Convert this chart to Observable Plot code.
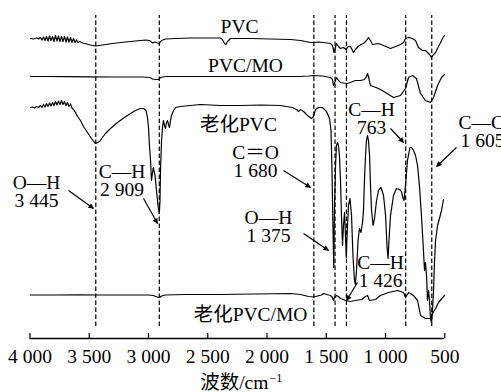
<!DOCTYPE html>
<html><head><meta charset="utf-8">
<script src="https://cdn.jsdelivr.net/npm/d3@7"></script>
<script src="https://cdn.jsdelivr.net/npm/@observablehq/plot@0.6"></script>
<style>html,body{margin:0;padding:0;background:#fff}svg{display:block}</style>
</head><body><div id="chart"></div>
<script>
// [wavenumber cm^-1, relative transmittance (offset per trace)]
const pvc = [[3996,300],[3970,299.5],[3945,300.5],[3928,299.5],[3911,301],[3899,298.5],[3886,301.5],[3873,298],[3861,302],[3848,297.5],[3835,302.5],[3823,298],[3810,302],[3797,297],[3785,303],[3772,297.5],[3760,302.5],[3747,297],[3734,302],[3722,297],[3709,302],[3696,296.5],[3684,301.5],[3671,296.5],[3658,301],[3646,296],[3633,300],[3620,296],[3608,298.5],[3595,296],[3582,297],[3557,295.5],[3523,294.5],[3490,293.5],[3445,292.5],[3363,294],[3236,296],[3110,297.5],[3025,298.5],[2992,298],[2966,295.5],[2949,296.5],[2924,295.5],[2909,295],[2890,298],[2857,299.5],[2772,300],[2646,300.5],[2393,300.5],[2376,299],[2359,295],[2346,294],[2334,297],[2308,300],[2139,300],[1971,299.5],[1802,299],[1718,298],[1675,297],[1633,296],[1608,296],[1566,296.5],[1524,296],[1464,295],[1448,293],[1435,286],[1414,295],[1397,292],[1380,290],[1355,291],[1338,289.5],[1329,290],[1313,292],[1296,292],[1270,286],[1254,289],[1232,292],[1207,294],[1186,295],[1161,298],[1144,301],[1127,298],[1110,294],[1085,294.5],[1059,295],[1017,293],[958,290],[916,292],[874,294],[848,296],[832,300],[806,301],[773,300],[747,298],[722,291],[688,288],[663,288],[646,286],[629,284],[612,281],[595,284],[578,286],[553,292],[536,296],[519,300],[503,303]];
const pvcMO = [[3996,262],[3850,262],[3700,261.8],[3500,261.6],[3300,261.5],[3050,261.5],[2990,261],[2966,259.5],[2941,259],[2916,259],[2899,261],[2857,262],[2600,262],[2139,262],[1718,262],[1650,262.5],[1608,263],[1530,262.5],[1464,261],[1448,259],[1439,253],[1422,258],[1414,261],[1397,258],[1380,256],[1329,255],[1296,256],[1254,258],[1211,258],[1178,259],[1161,262],[1152,265],[1144,262],[1127,253],[1059,250],[1000,246],[933,241],[874,243],[832,250],[806,261],[773,263],[739,260],[705,245],[663,238],[621,236],[595,241],[561,253],[528,261],[503,264]];
const agedPVC = [[3996,231],[3979,231.5],[3962,230.5],[3945,232],[3928,231],[3911,233],[3899,231],[3886,234],[3873,231.5],[3861,235],[3848,232],[3835,235.5],[3823,232.5],[3810,236],[3797,233],[3785,237],[3772,233.5],[3760,237.5],[3747,234],[3734,238],[3722,234],[3709,237],[3696,233],[3684,236],[3671,232],[3658,234.5],[3646,230.5],[3633,229],[3616,226],[3599,222],[3574,218],[3549,212],[3515,206],[3481,200],[3456,196],[3445,195],[3414,197],[3388,201],[3363,205],[3321,210],[3262,216],[3203,221],[3152,225],[3110,228],[3068,230],[3042,230],[3021,228],[3009,221],[3000,211],[2992,193],[2983,178],[2975,158],[2966,166],[2960,171],[2954,168],[2945,163],[2933,148],[2920,133],[2909,125],[2903,138],[2899,168],[2890,198],[2882,211],[2874,218],[2865,213],[2857,210],[2848,216],[2840,218],[2831,214],[2823,211],[2814,218],[2806,223],[2789,228],[2772,231],[2730,232],[2646,233],[2561,234],[2393,233],[2224,233],[2055,233.5],[1886,233],[1785,231],[1751,229],[1734,227],[1718,229],[1692,227],[1658,223],[1625,220],[1608,222],[1591,229],[1566,231],[1532,231],[1498,227],[1473,220],[1460,208],[1452,168],[1443,108],[1437,71],[1431,128],[1422,173],[1414,193],[1405,196],[1397,193],[1389,183],[1380,158],[1372,123],[1363,93],[1355,113],[1346,126],[1338,103],[1331,81],[1323,108],[1313,133],[1300,140],[1287,123],[1275,83],[1262,58],[1254,54],[1245,68],[1232,98],[1220,110],[1207,106],[1194,116],[1186,128],[1178,158],[1169,183],[1161,198],[1152,203],[1144,198],[1135,183],[1127,153],[1118,128],[1105,113],[1093,120],[1076,138],[1059,148],[1038,151],[1017,143],[1000,123],[988,93],[979,80],[971,98],[958,123],[933,143],[908,150],[882,149],[866,147],[852,140],[844,138],[832,153],[815,178],[794,191],[781,191],[764,188],[747,183],[730,173],[714,153],[697,123],[680,88],[671,68],[663,76],[654,63],[646,38],[637,48],[629,38],[621,20],[612,16],[604,28],[595,48],[587,76],[578,98],[561,113],[545,120],[528,128],[511,139]];
const agedPVCMO = [[3996,43.5],[3800,43.5],[3600,43.7],[3400,43.5],[3200,43.5],[3000,43.5],[2960,43],[2925,41.5],[2905,41],[2890,42.5],[2860,43.5],[2700,44],[2400,44],[2100,44.5],[1800,45],[1718,44],[1650,42],[1608,41.5],[1540,43.5],[1524,45],[1480,43.5],[1464,43],[1448,41],[1439,38],[1431,41],[1414,43],[1397,42],[1380,40],[1355,39],[1338,38],[1296,37],[1254,38],[1200,39],[1169,42],[1152,43],[1135,38],[1085,39],[1043,43],[975,46],[899,48],[848,46],[832,41],[806,46],[764,43],[730,38],[705,23],[663,20],[621,20],[604,25],[578,30],[553,36],[503,43]];

const dashedLines = [3445, 2909, 1605, 1426, 1330, 830, 610];
const xTicks = [4000, 3500, 3000, 2500, 2000, 1500, 1000, 500];
const xTickLabels = ["4 000", "3 500", "3 000", "2 500", "2 000", "1 500", "1 000", "500"];

// trace names: [text, wavenumber, T]
const traceLabels = [["PVC", 2232, 306], ["PVC/MO", 2182, 267], ["老化PVC", 2241, 208], ["老化PVC/MO", 2139, 18]];
// peak annotations: [line1, line2, wavenumber, T (line1 baseline), anchor]
const peakLabels = [
  ["O—H", "3 445", 3945, 150, "middle"],
  ["C—H", "2 909", 3224, 161, "middle"],
  ["C＝O", "1 680", 2097, 180, "middle"],
  ["O—H", "1 375", 1988, 115, "middle"],
  ["C—H", "1 426", 1042, 70, "middle"],
  ["C—H", "763", 1118, 223, "middle"],
  ["C—C", "1 605", 384, 210, "start"]
];
// arrows: [w1, T1, w2, T2]
const arrows = [[3675,148,3464,130],[3042,140,2924,115],[1861,168,1633,151],[1692,105,1481,88],[1237,56,1329,38],[958,210,847,196],[401,191,570,172]];

const font = "'Liberation Serif', 'Times New Roman', 'Noto Sans CJK SC', serif";
const fs = 19.5;
const series = (arr) => arr.map(([w, t]) => ({w, t}));
const lineOpts = {x: "w", y: "t", stroke: "#000", strokeWidth: 1.2, strokeLinejoin: "round", curve: "linear"};

const labelRows1 = peakLabels.map(([a, b, w, t, anchor]) => ({text: a, w, t, anchor}));
const labelRows2 = peakLabels.map(([a, b, w, t, anchor]) => ({text: b, w, t: t - 18, anchor}));

const chart = Plot.plot({
  width: 501, height: 392,
  marginLeft: 29.5, marginRight: 56.7, marginTop: 0, marginBottom: 54,
  style: {fontFamily: font, fontSize: fs + "px", background: "#fff", overflow: "hidden"},
  x: {domain: [4000, 500], axis: null},
  y: {domain: [0, 338], axis: null},
  marks: [
    Plot.ruleX(dashedLines, {y1: 12, y2: 323, stroke: "#000", strokeWidth: 1.2, strokeDasharray: "4.5,2.5"}),
    Plot.line(series(pvc), lineOpts),
    Plot.line(series(pvcMO), lineOpts),
    Plot.line(series(agedPVC), lineOpts),
    Plot.line(series(agedPVCMO), lineOpts),
    Plot.ruleY([0], {x1: 4000, x2: 500, stroke: "#000", strokeWidth: 1.3}),
    Plot.ruleX(xTicks, {y1: 0, y2: 5, stroke: "#000", strokeWidth: 1.2}),
    Plot.text(xTicks, {x: d => d, y: 0, dy: 24.5, text: (d, i) => xTickLabels[i], lineAnchor: "bottom", fontSize: fs, fontFamily: font, fill: "#000"}),
    Plot.text(traceLabels, {x: d => d[1], y: d => d[2], text: d => d[0], lineAnchor: "bottom", fontSize: fs, fontFamily: font, fill: "#000"}),
    Plot.text(labelRows1.filter(d => d.anchor === "middle"), {x: "w", y: "t", text: "text", lineAnchor: "bottom", fontSize: fs, fontFamily: font, fill: "#000"}),
    Plot.text(labelRows2.filter(d => d.anchor === "middle"), {x: "w", y: "t", text: "text", lineAnchor: "bottom", fontSize: fs, fontFamily: font, fill: "#000"}),
    Plot.text(labelRows1.filter(d => d.anchor === "start"), {x: "w", y: "t", text: "text", textAnchor: "start", lineAnchor: "bottom", fontSize: fs, fontFamily: font, fill: "#000"}),
    Plot.text(labelRows2.filter(d => d.anchor === "start"), {x: "w", y: "t", dx: 2, text: "text", textAnchor: "start", lineAnchor: "bottom", fontSize: fs, fontFamily: font, fill: "#000"}),
    Plot.link(arrows, {x1: d => d[0], y1: d => d[1], x2: d => d[2], y2: d => d[3], stroke: "#000", strokeWidth: 1.2}),
    Plot.text(["波数/cm"], {x: 1988, y: 0, dy: 50, text: d => d, textAnchor: "end", lineAnchor: "bottom", fontSize: fs, fontFamily: font, fill: "#000"}),
    Plot.text(["−1"], {x: 1988, y: 0, dy: 43, dx: 1, text: d => d, textAnchor: "start", lineAnchor: "bottom", fontSize: 12, fontFamily: font, fill: "#000"})
  ]
});

// filled arrowheads
const svg = d3.select(chart);
const defs = svg.insert("defs", ":first-child");
defs.append("marker").attr("id", "ah").attr("viewBox", "0 0 10 10").attr("refX", 9).attr("refY", 5)
  .attr("markerWidth", 9).attr("markerHeight", 5.5).attr("markerUnits", "userSpaceOnUse").attr("orient", "auto")
  .append("path").attr("d", "M0,0L10,5L0,10z").attr("fill", "#000");
svg.selectAll("g[aria-label='link'] path").attr("marker-end", "url(#ah)");

document.getElementById("chart").appendChild(chart);
</script>
</body></html>
